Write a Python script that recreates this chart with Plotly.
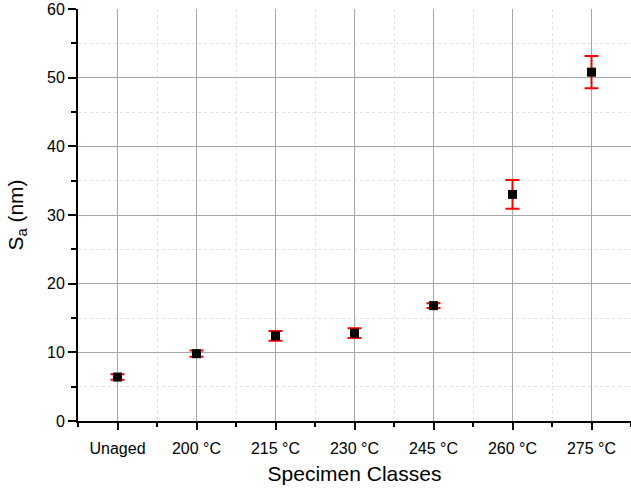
import plotly.graph_objects as go

# Surface roughness per specimen class
categories = ["Unaged", "200 °C", "215 °C", "230 °C", "245 °C", "260 °C", "275 °C"]
sa_mean = [6.4, 9.8, 12.4, 12.8, 16.8, 33.0, 50.8]
sa_err = [0.4, 0.45, 0.7, 0.7, 0.35, 2.1, 2.35]
y_ticks = [0, 10, 20, 30, 40, 50, 60]

positions = list(range(len(categories)))
font_family = "Liberation Sans, Arial, sans-serif"

fig = go.Figure()
fig.add_trace(go.Scatter(
    x=positions,
    y=sa_mean,
    mode="markers",
    marker=dict(symbol="square", size=9, color="black"),
    error_y=dict(type="data", array=sa_err, visible=True,
                 color="red", thickness=2, width=7),
    showlegend=False,
))

fig.update_layout(
    width=631, height=491,
    margin=dict(l=78, r=0, t=9, b=70),
    plot_bgcolor="white",
    paper_bgcolor="white",
    font=dict(family=font_family, color="black"),
    xaxis=dict(
        range=[-0.5, 6.5],
        tickmode="array", tickvals=positions, ticktext=categories,
        tickfont=dict(size=16),
        ticks="outside", ticklen=7, tickwidth=2, tickcolor="black",
        ticklabelstandoff=5,
        showline=True, linecolor="black", linewidth=2,
        showgrid=True, gridcolor="#a6a6a6", gridwidth=1,
        zeroline=False,
        minor=dict(tickmode="linear", tick0=-0.5, dtick=1,
                   ticks="outside", ticklen=4, tickwidth=2, tickcolor="black",
                   showgrid=True, gridcolor="#e2e2e2", griddash="3px,3px", gridwidth=1),
        title=dict(text="Specimen Classes", font=dict(size=21), standoff=10),
    ),
    yaxis=dict(
        range=[0, 60],
        tickmode="array", tickvals=y_ticks,
        tickfont=dict(size=16),
        ticks="outside", ticklen=8, tickwidth=2, tickcolor="black",
        showline=True, linecolor="black", linewidth=2,
        showgrid=True, gridcolor="#a6a6a6", gridwidth=1,
        zeroline=False,
        minor=dict(tickmode="linear", tick0=5, dtick=10,
                   ticks="outside", ticklen=5, tickwidth=2, tickcolor="black",
                   showgrid=True, gridcolor="#e2e2e2", griddash="3px,3px", gridwidth=1),
        title=dict(text="S<sub>a</sub> (nm)", font=dict(size=21), standoff=18),
    ),
)

fig.write_html("out.html")
